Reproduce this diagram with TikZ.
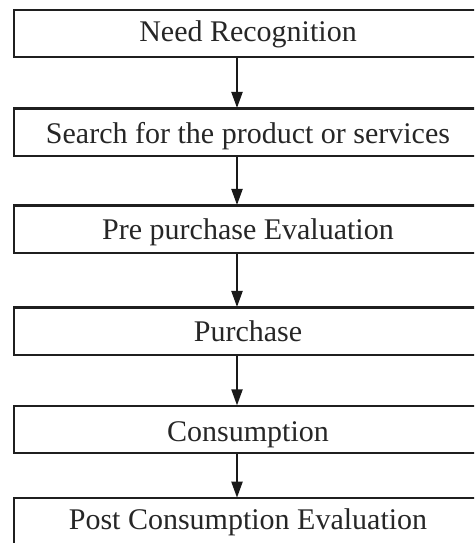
\documentclass[tikz,border=0pt]{standalone}
\usepackage{fontspec}
\setmainfont{Liberation Serif}
\usetikzlibrary{arrows.meta}

\begin{document}
\begin{tikzpicture}[x=1pt,y=1pt,
  stagebox/.style={draw=black!88, line width=2.3pt, rectangle, inner sep=0pt,
    minimum width=467.6pt, minimum height=47.3pt},
  stagetext/.style={anchor=base, inner sep=0pt, text=black!85,
    font=\fontsize{30}{36}\selectfont},
  flow/.style={draw=black!90, line width=2pt,
    -{Triangle[width=11pt,length=16pt]}, shorten >=-0.5pt}]
  \useasboundingbox (0,0) rectangle (474,543);
  \clip (0,0) rectangle (474,543);

  % stage boxes (centre x = 248)
  \node[stagebox] (b1) at (248,509.4) {};
  \node[stagebox] (b2) at (248,410.7) {};
  \node[stagebox] (b3) at (248,313.7) {};
  \node[stagebox] (b4) at (248,211.7) {};
  \node[stagebox] (b5) at (248,113.3) {};
  \node[stagebox] (b6) at (248,21.0) {};

  % stage labels
  \node[stagetext] (t1) at (248,501.0) {Need Recognition};
  \node[stagetext] (t2) at (248,399.0) {Search for the product or services};
  \node[stagetext] (t3) at (248,303.0) {Pre purchase Evaluation};
  \node[stagetext] (t4) at (248,201.0) {Purchase};
  \node[stagetext] (t5) at (248,101.3) {Consumption};
  \node[stagetext] (t6) at (248,13.0) {Post Consumption Evaluation};

  % flow arrows run slightly left of the box centre
  \coordinate (ax) at (237,0);
  \draw[flow] (b1.south -| ax) -- (b2.north -| ax);
  \draw[flow] (b2.south -| ax) -- (b3.north -| ax);
  \draw[flow] (b3.south -| ax) -- (b4.north -| ax);
  \draw[flow] (b4.south -| ax) -- (b5.north -| ax);
  \draw[flow] (b5.south -| ax) -- (b6.north -| ax);
\end{tikzpicture}
\end{document}
